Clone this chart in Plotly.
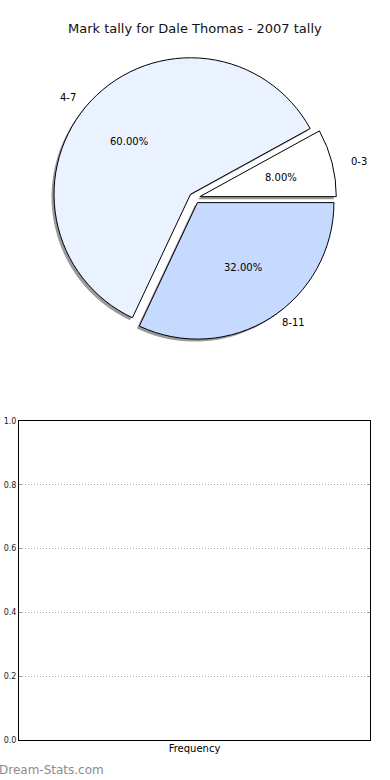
import math
import plotly.graph_objects as go

# ---- data ----
categories = ["0-3", "4-7", "8-11"]
values = [2, 15, 8]  # 8%, 60%, 32%
colors = ["#FFFFFF", "#EAF1FF", "#C6D9FF"]
title_text = "Mark tally for Dale Thomas - 2007 tally"
yticks = [0.0, 0.2, 0.4, 0.6, 0.8, 1.0]

W, H = 390, 780
# pie geometry in pixels
cx_px, cy_px = 194.5, 198.0
r_px = 136.5
pull = 0.04
half = r_px * (1 + pull)

total = sum(values)
# first slice starts at 3 o'clock and runs counterclockwise
rot = 90 - 360 * values[0] / total

def dom(cx, cy, hx, hy):
    return dict(x=[(cx - hx) / W, (cx + hx) / W],
                y=[1 - (cy + hy) / H, 1 - (cy - hy) / H])

fig = go.Figure()

# shadow
fig.add_trace(go.Pie(
    labels=categories, values=values, sort=False, direction="counterclockwise",
    rotation=rot, pull=[pull] * len(values), textinfo="none", hoverinfo="skip",
    marker=dict(colors=["#9a9a9a"] * len(values), line=dict(width=0)),
    domain=dom(cx_px - 2.5, cy_px + 2.5, half, half), showlegend=False,
))
# main pie
fig.add_trace(go.Pie(
    labels=categories, values=values, sort=False, direction="counterclockwise",
    rotation=rot, pull=[pull] * len(values), textinfo="none",
    marker=dict(colors=colors, line=dict(color="#000000", width=1)),
    domain=dom(cx_px, cy_px, half, half), showlegend=False,
))

# labels (matplotlib style: label at 1.1 r, pct at 0.6 r)
rx_lab, ry_lab = 140.0, 129.0
start = 0.0
annotations = []
for lab, v in zip(categories, values):
    frac = v / total
    mid = math.radians((start + frac / 2) * 360)
    c, s = math.cos(mid), math.sin(mid)
    ex = cx_px + pull * rx_lab * c
    ey = cy_px - pull * ry_lab * s
    lx = ex + 1.1 * rx_lab * c
    ly = ey - 1.1 * ry_lab * s
    annotations.append(dict(x=lx / W, y=1 - ly / H, xref="paper", yref="paper",
                            text=lab, showarrow=False,
                            xanchor="left" if c > 0 else "right", yanchor="middle",
                            font=dict(size=10, color="#000000", family="DejaVu Sans")))
    px = ex + 0.6 * rx_lab * c
    py = ey - 0.6 * ry_lab * s
    annotations.append(dict(x=px / W, y=1 - py / H, xref="paper", yref="paper",
                            text=f"{frac * 100:.2f}%", showarrow=False,
                            xanchor="center", yanchor="middle",
                            font=dict(size=10, color="#000000", family="DejaVu Sans")))
    start += frac

annotations.append(dict(x=194.5 / W, y=1 - 29 / H, xref="paper", yref="paper",
                        text=title_text, showarrow=False, xanchor="center", yanchor="middle",
                        font=dict(size=13, color="#111111", family="DejaVu Sans")))
annotations.append(dict(x=-3 / W, y=1 - 770 / H, xref="paper", yref="paper",
                        text="Dream-Stats.com", showarrow=False, xanchor="left", yanchor="middle",
                        font=dict(size=12, color="#8c8c8c", family="DejaVu Sans")))

# empty frequency axes
fig.add_trace(go.Scatter(x=[], y=[], xaxis="x", yaxis="y", showlegend=False))

fig.update_layout(
    width=W, height=H, margin=dict(l=0, r=0, t=0, b=0, autoexpand=False),
    paper_bgcolor="white", plot_bgcolor="white",
    showlegend=False, annotations=annotations,
    xaxis=dict(domain=[19 / W, 370 / W], range=[0, 1], showticklabels=False, ticks="",
               showgrid=False, zeroline=False, showline=True, linecolor="#000000",
               linewidth=1, mirror=True, fixedrange=True, automargin=False,
               title=dict(text="Frequency", standoff=4,
                          font=dict(size=10, color="#000000", family="DejaVu Sans"))),
    yaxis=dict(domain=[1 - 740 / H, 1 - 421 / H], range=[0, 1], tickvals=yticks,
               ticktext=[f"{t:.1f}" for t in yticks], ticks="inside", ticklen=3,
               tickcolor="#999999", showgrid=True, gridcolor="#aaaaaa", griddash="1px,2px",
               gridwidth=1, zeroline=False, showline=True, linecolor="#000000",
               linewidth=1, mirror="ticks", fixedrange=True, automargin=False,
               tickfont=dict(size=8, color="#222222", family="DejaVu Sans")),
)

fig.write_html("out.html")
